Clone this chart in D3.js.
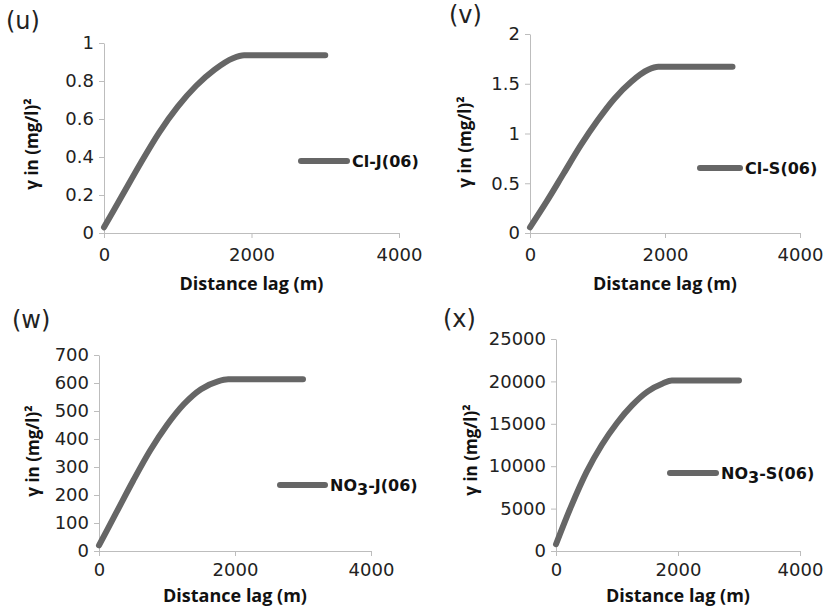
<!DOCTYPE html>
<html>
<head>
<meta charset="utf-8">
<script src="https://cdn.jsdelivr.net/npm/d3@7"></script>
<style>
  body { margin: 0; background: #fff; }
  svg { display: block; }
</style>
</head>
<body>
<svg id="chart" width="825" height="610"></svg>
<script>
// Data
const lags = [0, 250, 500, 750, 1000, 1250, 1500, 1750, 1900, 2000, 3000];
const gammaClJ = [0.03, 0.2, 0.37, 0.53, 0.665, 0.775, 0.86, 0.92, 0.935, 0.935, 0.935];
const gammaClS = [0.057, 0.32, 0.60, 0.88, 1.13, 1.35, 1.52, 1.64, 1.67, 1.67, 1.67];
const gammaNO3J = [20, 135, 250, 358, 450, 525, 578, 606, 613, 613, 613];
const gammaNO3S = [800, 5300, 9300, 12500, 15100, 17200, 18800, 19750, 20100, 20100, 20100];

const seriesNames = ["Cl-J(06)", "Cl-S(06)", "NO3-J(06)", "NO3-S(06)"];
const panelLetters = ["(u)", "(v)", "(w)", "(x)"];
const xTicks = [0, 2000, 4000];
const yTicksClJ = [0, 0.2, 0.4, 0.6, 0.8, 1];
const yTicksClS = [0, 0.5, 1, 1.5, 2];
const yTicksNO3J = [0, 100, 200, 300, 400, 500, 600, 700];
const yTicksNO3S = [0, 5000, 10000, 15000, 20000, 25000];

// layout per panel (pixel boxes measured on the reference)
const panels = [
  {values: gammaClJ, yTicks: yTicksClJ, left: 104, right: 399, top: 43, bottom: 233,
   label: [6, 29], yTitle: [32, 144], xTitleY: 290, tickPad: 10, legend: [301, 347, 161]},
  {values: gammaClS, yTicks: yTicksClS, left: 530, right: 800, top: 34, bottom: 233,
   label: [449, 23], yTitle: [465, 142], xTitleY: 290, tickPad: 10, legend: [700, 740, 168]},
  {values: gammaNO3J, yTicks: yTicksNO3J, left: 99, right: 371, top: 355, bottom: 551,
   label: [12, 328], yTitle: [33, 451], xTitleY: 602, tickPad: 7, legend: [280, 325, 485]},
  {values: gammaNO3S, yTicks: yTicksNO3S, left: 556, right: 800, top: 339, bottom: 551,
   label: [443, 327], yTitle: [471, 450], xTitleY: 602, tickPad: 7, legend: [670, 716, 473]}
];

const lineColor = "#666666";
const axisColor = "#bdbdbd";
const tickFont = "DejaVu Sans";
const titleFont = "Open Sans";

const svg = d3.select("#chart");

panels.forEach((p, i) => {
  const x = d3.scaleLinear([0, 4000], [p.left, p.right]);
  const y = d3.scaleLinear([0, d3.max(p.yTicks)], [p.bottom, p.top]);
  const g = svg.append("g");

  // axes
  const xAxis = g.append("g")
    .attr("transform", `translate(0,${p.bottom})`)
    .call(d3.axisBottom(x).tickValues(xTicks).tickSize(5).tickSizeOuter(0).tickPadding(p.tickPad).tickFormat(d3.format("d")));
  const yAxis = g.append("g")
    .attr("transform", `translate(${p.left},0)`)
    .call(d3.axisLeft(y).tickValues(p.yTicks).tickSize(5).tickSizeOuter(0).tickPadding(5).tickFormat(d3.format("~g")));

  [xAxis, yAxis].forEach(a => {
    a.select(".domain").attr("stroke", axisColor);
    a.selectAll(".tick line").attr("stroke", axisColor);
    a.selectAll(".tick text")
      .attr("fill", "#222")
      .style("font-family", tickFont)
      .style("font-size", "18px");
  });

  // variogram curve
  const line = d3.line()
    .x((d, j) => x(lags[j]))
    .y(d => y(d))
    .curve(d3.curveMonotoneX);

  g.append("path")
    .datum(p.values)
    .attr("d", line)
    .attr("fill", "none")
    .attr("stroke", lineColor)
    .attr("stroke-width", 6)
    .attr("stroke-linecap", "round")
    .attr("stroke-linejoin", "round");

  // legend
  const [lx1, lx2, ly] = p.legend;
  g.append("line")
    .attr("x1", lx1).attr("x2", lx2)
    .attr("y1", ly).attr("y2", ly)
    .attr("stroke", lineColor)
    .attr("stroke-width", 6)
    .attr("stroke-linecap", "round");

  const lt = g.append("text")
    .attr("x", lx2 + 5)
    .attr("y", ly + 6)
    .attr("fill", "#111")
    .style("font-family", tickFont)
    .style("font-weight", "bold")
    .style("font-size", "16px");
  const name = seriesNames[i];
  if (name.startsWith("NO3")) {
    lt.append("tspan").text("NO");
    lt.append("tspan").attr("dy", 4).text("3");
    lt.append("tspan").attr("dy", -4).text(name.slice(3));
  } else {
    lt.text(name);
  }

  // axis titles
  g.append("text")
    .attr("x", (p.left + p.right) / 2)
    .attr("y", p.xTitleY)
    .attr("text-anchor", "middle")
    .attr("fill", "#111")
    .style("font-family", titleFont)
    .style("font-weight", "bold")
    .style("font-size", "18px")
    .text("Distance lag (m)");

  g.append("text")
    .attr("transform", `translate(${p.yTitle[0]},${p.yTitle[1]}) rotate(-90)`)
    .attr("text-anchor", "middle")
    .attr("dy", "0.35em")
    .attr("fill", "#111")
    .style("font-family", titleFont)
    .style("font-weight", "bold")
    .style("font-size", "17px")
    .text("γ in (mg/l)²");

  // panel letter
  g.append("text")
    .attr("x", p.label[0])
    .attr("y", p.label[1])
    .attr("fill", "#222")
    .style("font-family", tickFont)
    .style("font-size", "24px")
    .text(panelLetters[i]);
});
</script>
</body>
</html>
